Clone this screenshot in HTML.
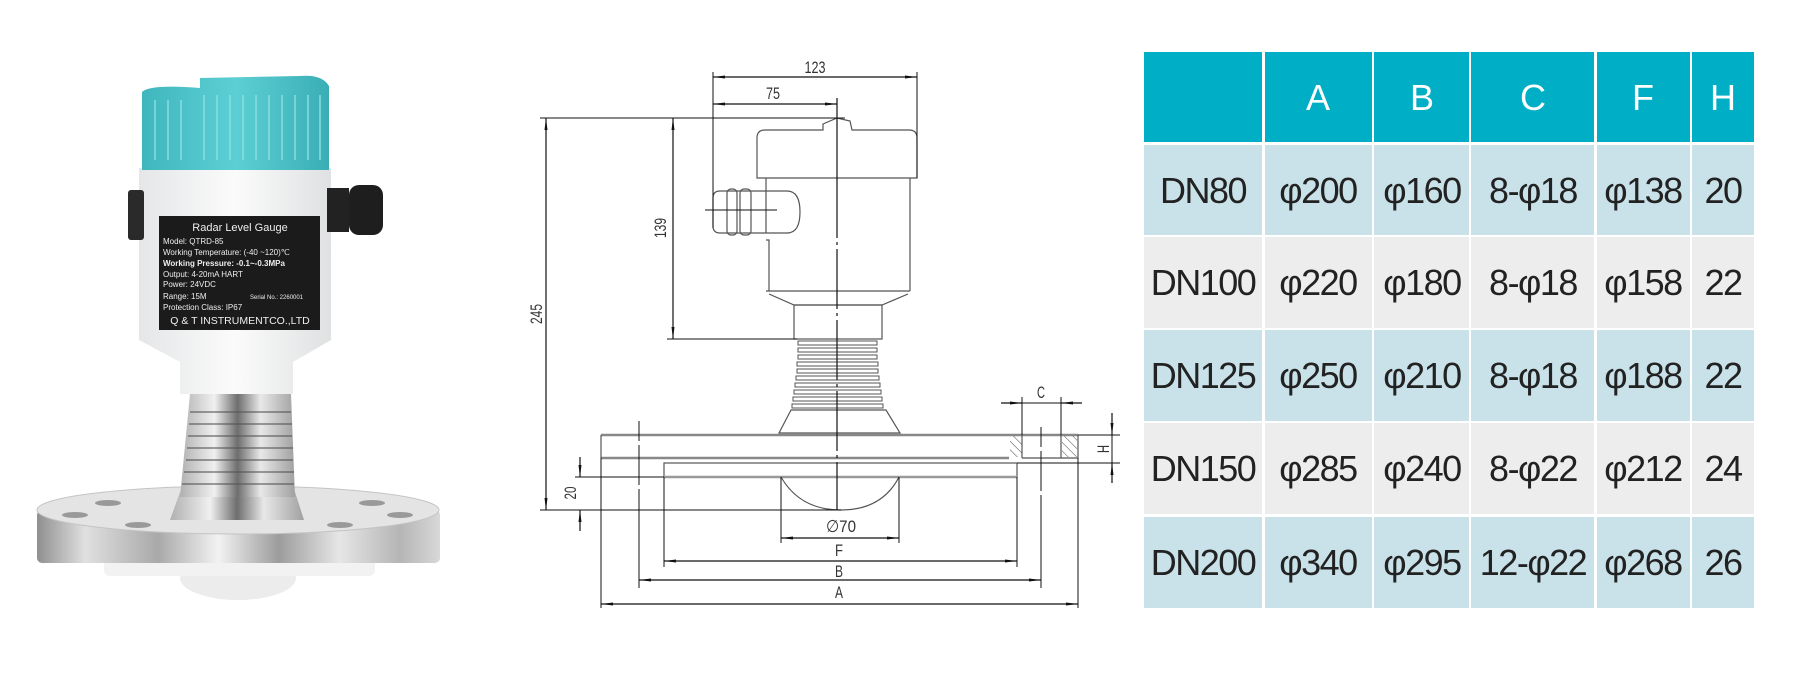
<!DOCTYPE html>
<html><head><meta charset="utf-8"><style>
html,body{margin:0;padding:0;background:#fff;}
svg{display:block;}
.t{font-family:"Liberation Sans",sans-serif;}
.d{font-family:"Liberation Sans",sans-serif;font-size:17px;fill:#333;}
.h{font-family:"Liberation Sans",sans-serif;font-size:36px;fill:#fff;text-anchor:middle;}
.c{font-family:"Liberation Sans",sans-serif;font-size:36px;fill:#222;text-anchor:middle;letter-spacing:-1.5px;}
</style></head><body>
<svg width="1800" height="676" viewBox="0 0 1800 676" xmlns="http://www.w3.org/2000/svg">
<defs>
<marker id="ar" viewBox="0 0 12 6" refX="12" refY="3" markerWidth="12" markerHeight="6" orient="auto-start-reverse" markerUnits="userSpaceOnUse"><path d="M0,1.5 L12,3 L0,4.5 Z" fill="#111"/></marker>
<linearGradient id="steel" x1="0" x2="1" y1="0" y2="0">
<stop offset="0" stop-color="#8f8f8f"/><stop offset="0.12" stop-color="#e0e0e0"/><stop offset="0.3" stop-color="#a9a9a9"/><stop offset="0.45" stop-color="#f2f2f2"/><stop offset="0.6" stop-color="#9c9c9c"/><stop offset="0.75" stop-color="#e6e6e6"/><stop offset="0.9" stop-color="#b5b5b5"/><stop offset="1" stop-color="#d8d8d8"/></linearGradient>
<linearGradient id="steel2" x1="0" x2="1" y1="0" y2="0">
<stop offset="0" stop-color="#b0b0b0"/><stop offset="0.3" stop-color="#f0f0f0"/><stop offset="0.5" stop-color="#6e6e6e"/><stop offset="0.7" stop-color="#e8e8e8"/><stop offset="1" stop-color="#a0a0a0"/></linearGradient>
<linearGradient id="white" x1="0" x2="1"><stop offset="0" stop-color="#e4e6e7"/><stop offset="0.5" stop-color="#fbfbfb"/><stop offset="1" stop-color="#dfe1e2"/></linearGradient>
<linearGradient id="blue" x1="0" x2="1"><stop offset="0" stop-color="#3fb6bd"/><stop offset="0.5" stop-color="#5ccfd4"/><stop offset="1" stop-color="#3aaeb5"/></linearGradient>
<pattern id="hatch" width="6" height="6" patternUnits="userSpaceOnUse" patternTransform="rotate(-45)"><line x1="0" y1="0" x2="0" y2="6" stroke="#444" stroke-width="1"/></pattern>
</defs>

<!-- ===== PHOTO ===== -->
<ellipse cx="238" cy="578" rx="58" ry="22" fill="#ececec"/>
<rect x="104" y="552" width="271" height="24" rx="6" fill="#f2f2f2"/>
<rect x="37" y="510" width="403" height="53" rx="5" fill="url(#steel)"/>
<ellipse cx="238" cy="510" rx="201" ry="24" fill="#e4e4e4"/>
<ellipse cx="238" cy="510" rx="201" ry="24" fill="none" stroke="#c4c4c4"/>
<ellipse cx="108" cy="503" rx="13" ry="3" fill="#999"/>
<ellipse cx="372" cy="503" rx="13" ry="3" fill="#999"/>
<ellipse cx="75" cy="515" rx="13" ry="3" fill="#999"/>
<ellipse cx="400" cy="515" rx="13" ry="3" fill="#999"/>
<ellipse cx="138" cy="525" rx="13" ry="3" fill="#999"/>
<ellipse cx="340" cy="525" rx="13" ry="3" fill="#999"/>
<path d="M180,492 L295,492 L304,520 L170,520 Z" fill="url(#steel2)"/>
<path d="M190,394 L291,394 L295,497 L180,497 Z" fill="url(#steel2)"/>
<g stroke="#555" stroke-width="2" opacity="0.55">
<line x1="190" y1="412" x2="291" y2="412"/><line x1="189" y1="424" x2="292" y2="424"/><line x1="188" y1="436" x2="292" y2="436"/><line x1="187" y1="448" x2="293" y2="448"/><line x1="186" y1="460" x2="293" y2="460"/><line x1="184" y1="472" x2="294" y2="472"/><line x1="182" y1="484" x2="294" y2="484"/></g>
<path d="M139,168 L331,168 L331,340 L293,362 L293,394 L180,394 L180,362 L139,340 Z" fill="url(#white)"/>
<rect x="128" y="190" width="16" height="50" rx="3" fill="#2a2a2a"/>
<rect x="327" y="188" width="22" height="44" fill="#222"/>
<rect x="349" y="185" width="34" height="50" rx="10" fill="#1e1e1e"/>
<path d="M142,170 L142,92 Q150,84 200,88 L200,78 L300,76 Q322,74 329,86 L329,170 Z" fill="url(#blue)"/>
<g stroke="#8de0e3" stroke-width="2" opacity="0.7">
<line x1="155" y1="100" x2="155" y2="160"/><line x1="168" y1="100" x2="168" y2="160"/><line x1="181" y1="100" x2="181" y2="160"/><line x1="204" y1="95" x2="204" y2="160"/><line x1="217" y1="95" x2="217" y2="160"/><line x1="230" y1="95" x2="230" y2="160"/><line x1="243" y1="95" x2="243" y2="160"/><line x1="256" y1="95" x2="256" y2="160"/><line x1="269" y1="95" x2="269" y2="160"/><line x1="282" y1="95" x2="282" y2="160"/><line x1="295" y1="95" x2="295" y2="160"/><line x1="308" y1="95" x2="308" y2="160"/><line x1="320" y1="95" x2="320" y2="160"/></g>
<rect x="159" y="216" width="161" height="114" fill="#1b1b1b"/>
<g class="t" fill="#eee" font-size="8">
<text x="240" y="231" text-anchor="middle" font-size="11">Radar Level Gauge</text>
<text x="163" y="244">Model:    QTRD-85</text>
<text x="163" y="255">Working Temperature:  (-40 ~120)℃</text>
<text x="163" y="266" font-weight="bold">Working Pressure:  -0.1~-0.3MPa</text>
<text x="163" y="277">Output:  4-20mA HART</text>
<text x="163" y="287">Power:   24VDC</text>
<text x="163" y="299">Range:    15M</text>
<text x="250" y="299" font-size="6">Serial No.: 2260001</text>
<text x="163" y="310">Protection Class:  IP67</text>
<text x="240" y="324" text-anchor="middle" font-size="10.5">Q &amp; T INSTRUMENTCO.,LTD</text>
</g>

<!-- ===== DRAWING ===== -->
<g stroke="#111" stroke-width="1.2" fill="none">
<path d="M757,178 L757,138 Q757,130 765,130 L823,130 L823,124 L837,118 L850,121 L852,130 L909,130 Q917,130 917,138 L917,178 Z" stroke="#555"/>
<path d="M766,178 L766,233 M766,240 L769,240 L769,291 M910,178 L910,291" stroke="#555"/>
<line x1="766" y1="291" x2="910" y2="291" stroke="#555"/>
<path d="M769,294 L794,305 L882,305 L908,294" stroke="#555"/>
<rect x="794" y="305" width="88" height="34" stroke="#555"/>
<path d="M787,191 Q800,191 800,212 Q800,233 787,233 L720,233 Q713,233 713,226 L713,198 Q713,191 720,191 Z" stroke="#555"/>
<rect x="727" y="189" width="10" height="46" rx="4" stroke="#555"/>
<rect x="740" y="189" width="11" height="46" rx="4" stroke="#555"/>
<line x1="705" y1="210" x2="777" y2="210" stroke-width="1"/>
<g stroke="#555" stroke-width="1">
<rect x="798" y="341" width="79" height="4"/><rect x="798" y="348" width="79" height="4"/><rect x="798" y="355" width="79" height="4"/><rect x="797" y="362" width="81" height="4"/><rect x="797" y="369" width="81" height="4"/><rect x="796" y="376" width="83" height="4"/><rect x="795" y="383" width="85" height="4"/><rect x="794" y="390" width="87" height="4"/><rect x="793" y="397" width="89" height="4"/><rect x="792" y="404" width="91" height="4"/>
</g>
<path d="M791,410 L779,433 L900,433 L886,410 Z" stroke="#555"/>
<line x1="601" y1="435" x2="1078" y2="435" stroke="#888" stroke-width="2.5"/>
<line x1="601" y1="458" x2="1009" y2="458" stroke="#888" stroke-width="2.5"/>
<line x1="601" y1="435" x2="601" y2="458" stroke="#555"/>
<line x1="1022" y1="435" x2="1022" y2="458" stroke="#555"/>
<line x1="1061" y1="435" x2="1061" y2="458" stroke="#555"/>
<line x1="1022" y1="458" x2="1078" y2="458" stroke="#555"/>
<line x1="1078" y1="435" x2="1078" y2="458" stroke="#555"/>
<rect x="1010" y="436" width="12" height="21" fill="url(#hatch)" stroke="none"/>
<rect x="1062" y="436" width="15" height="21" fill="url(#hatch)" stroke="none"/>
<rect x="664" y="463" width="353" height="14" stroke="#555"/>
<line x1="664" y1="477" x2="1017" y2="477" stroke="#999" stroke-width="2.5"/>
<path d="M781,477 Q800,510 841,510 Q882,510 899,477" stroke="#555"/>
<line x1="837" y1="98" x2="837" y2="178"/>
<line x1="837" y1="178" x2="837" y2="510" stroke-dasharray="60,4,3,4"/>
<line x1="713" y1="72" x2="713" y2="228" stroke-width="1"/>
<line x1="917" y1="72" x2="917" y2="178" stroke-width="1"/>
<line x1="713" y1="77" x2="917" y2="77" marker-start="url(#ar)" marker-end="url(#ar)"/>
<line x1="713" y1="104" x2="837" y2="104" marker-start="url(#ar)" marker-end="url(#ar)"/>
<line x1="540" y1="118" x2="845" y2="118" stroke-width="1"/>
<line x1="546" y1="118" x2="546" y2="510" marker-start="url(#ar)" marker-end="url(#ar)"/>
<line x1="540" y1="510" x2="841" y2="510" stroke-width="1"/>
<line x1="673" y1="118" x2="673" y2="339" marker-start="url(#ar)" marker-end="url(#ar)"/>
<line x1="667" y1="339" x2="797" y2="339" stroke-width="1"/>
<line x1="575" y1="477" x2="664" y2="477" stroke-width="1"/>
<line x1="580" y1="457" x2="580" y2="477" marker-end="url(#ar)"/>
<line x1="580" y1="531" x2="580" y2="510" marker-end="url(#ar)"/>
<line x1="781" y1="477" x2="781" y2="543" stroke-width="1"/>
<line x1="899" y1="477" x2="899" y2="543" stroke-width="1"/>
<line x1="781" y1="538" x2="899" y2="538" marker-start="url(#ar)" marker-end="url(#ar)"/>
<line x1="664" y1="477" x2="664" y2="567" stroke-width="1"/>
<line x1="1017" y1="477" x2="1017" y2="567" stroke-width="1"/>
<line x1="664" y1="561" x2="1017" y2="561" marker-start="url(#ar)" marker-end="url(#ar)"/>
<line x1="639" y1="421" x2="639" y2="588" stroke-width="1" stroke-dasharray="20,4,40,4,200"/>
<line x1="1041" y1="427" x2="1041" y2="588" stroke-width="1" stroke-dasharray="20,4,40,4,200"/>
<line x1="639" y1="580" x2="1041" y2="580" marker-start="url(#ar)" marker-end="url(#ar)"/>
<line x1="601" y1="458" x2="601" y2="608" stroke-width="1"/>
<line x1="1078" y1="458" x2="1078" y2="608" stroke-width="1"/>
<line x1="601" y1="604" x2="1078" y2="604" marker-start="url(#ar)" marker-end="url(#ar)"/>
<line x1="1022" y1="397" x2="1022" y2="435" stroke-width="1"/>
<line x1="1061" y1="397" x2="1061" y2="435" stroke-width="1"/>
<line x1="1001" y1="403" x2="1022" y2="403" marker-end="url(#ar)"/>
<line x1="1082" y1="403" x2="1061" y2="403" marker-end="url(#ar)"/>
<line x1="1022" y1="403" x2="1061" y2="403" stroke-width="1"/>
<line x1="1078" y1="435" x2="1120" y2="435" stroke-width="1"/>
<line x1="1078" y1="463" x2="1120" y2="463" stroke-width="1"/>
<line x1="1017" y1="463" x2="1078" y2="463" stroke-width="1"/>
<line x1="1112" y1="413" x2="1112" y2="435" marker-end="url(#ar)"/>
<line x1="1112" y1="483" x2="1112" y2="463" marker-end="url(#ar)"/>
<line x1="1112" y1="435" x2="1112" y2="463" stroke-width="1"/>
</g>
<text class="d" x="815" y="73" text-anchor="middle" textLength="21" lengthAdjust="spacingAndGlyphs">123</text>
<text class="d" x="773" y="99" text-anchor="middle" textLength="14" lengthAdjust="spacingAndGlyphs">75</text>
<text class="d" transform="translate(542,314) rotate(-90)" text-anchor="middle" textLength="20" lengthAdjust="spacingAndGlyphs">245</text>
<text class="d" transform="translate(666,228) rotate(-90)" text-anchor="middle" textLength="20" lengthAdjust="spacingAndGlyphs">139</text>
<text class="d" transform="translate(576,493) rotate(-90)" text-anchor="middle" textLength="13" lengthAdjust="spacingAndGlyphs">20</text>
<text class="d" x="841" y="532" text-anchor="middle" textLength="30" lengthAdjust="spacingAndGlyphs">∅70</text>
<text class="d" x="839" y="556" text-anchor="middle" textLength="8" lengthAdjust="spacingAndGlyphs" fill="#3a5a8a">F</text>
<text class="d" x="839" y="577" text-anchor="middle" textLength="8" lengthAdjust="spacingAndGlyphs" fill="#3a5a8a">B</text>
<text class="d" x="839" y="598" text-anchor="middle" textLength="8" lengthAdjust="spacingAndGlyphs" fill="#3a5a8a">A</text>
<text class="d" x="1041" y="398" text-anchor="middle" textLength="8" lengthAdjust="spacingAndGlyphs">C</text>
<text class="d" transform="translate(1109,449) rotate(-90)" text-anchor="middle" textLength="8" lengthAdjust="spacingAndGlyphs" font-size="14">H</text>

<!-- ===== TABLE ===== -->
<g>
<rect x="1144" y="52" width="118" height="90" fill="#00aec5"/>
<rect x="1265" y="52" width="107" height="90" fill="#00aec5"/>
<rect x="1374" y="52" width="95" height="90" fill="#00aec5"/>
<rect x="1471" y="52" width="123" height="90" fill="#00aec5"/>
<rect x="1597" y="52" width="93" height="90" fill="#00aec5"/>
<rect x="1692" y="52" width="62" height="90" fill="#00aec5"/>
</g>
<g>
<g fill="#c9e2ea">
<rect x="1144" y="145" width="118" height="90"/><rect x="1265" y="145" width="107" height="90"/><rect x="1374" y="145" width="95" height="90"/><rect x="1471" y="145" width="123" height="90"/><rect x="1597" y="145" width="93" height="90"/><rect x="1692" y="145" width="62" height="90"/>
<rect x="1144" y="330" width="118" height="91"/><rect x="1265" y="330" width="107" height="91"/><rect x="1374" y="330" width="95" height="91"/><rect x="1471" y="330" width="123" height="91"/><rect x="1597" y="330" width="93" height="91"/><rect x="1692" y="330" width="62" height="91"/>
<rect x="1144" y="517" width="118" height="91"/><rect x="1265" y="517" width="107" height="91"/><rect x="1374" y="517" width="95" height="91"/><rect x="1471" y="517" width="123" height="91"/><rect x="1597" y="517" width="93" height="91"/><rect x="1692" y="517" width="62" height="91"/>
</g>
<g fill="#ededed">
<rect x="1144" y="237" width="118" height="91"/><rect x="1265" y="237" width="107" height="91"/><rect x="1374" y="237" width="95" height="91"/><rect x="1471" y="237" width="123" height="91"/><rect x="1597" y="237" width="93" height="91"/><rect x="1692" y="237" width="62" height="91"/>
<rect x="1144" y="423" width="118" height="91"/><rect x="1265" y="423" width="107" height="91"/><rect x="1374" y="423" width="95" height="91"/><rect x="1471" y="423" width="123" height="91"/><rect x="1597" y="423" width="93" height="91"/><rect x="1692" y="423" width="62" height="91"/>
</g>
</g>
<text class="h" x="1318" y="110">A</text><text class="h" x="1422" y="110">B</text><text class="h" x="1533" y="110">C</text><text class="h" x="1643" y="110">F</text><text class="h" x="1723" y="110">H</text>
<g class="c">
<text x="1203" y="203">DN80</text><text x="1318" y="203">φ200</text><text x="1422" y="203">φ160</text><text x="1533" y="203">8-φ18</text><text x="1643" y="203">φ138</text><text x="1723" y="203">20</text>
<text x="1203" y="295">DN100</text><text x="1318" y="295">φ220</text><text x="1422" y="295">φ180</text><text x="1533" y="295">8-φ18</text><text x="1643" y="295">φ158</text><text x="1723" y="295">22</text>
<text x="1203" y="388">DN125</text><text x="1318" y="388">φ250</text><text x="1422" y="388">φ210</text><text x="1533" y="388">8-φ18</text><text x="1643" y="388">φ188</text><text x="1723" y="388">22</text>
<text x="1203" y="481">DN150</text><text x="1318" y="481">φ285</text><text x="1422" y="481">φ240</text><text x="1533" y="481">8-φ22</text><text x="1643" y="481">φ212</text><text x="1723" y="481">24</text>
<text x="1203" y="575">DN200</text><text x="1318" y="575">φ340</text><text x="1422" y="575">φ295</text><text x="1533" y="575">12-φ22</text><text x="1643" y="575">φ268</text><text x="1723" y="575">26</text>
</g>
</svg>
</body></html>
